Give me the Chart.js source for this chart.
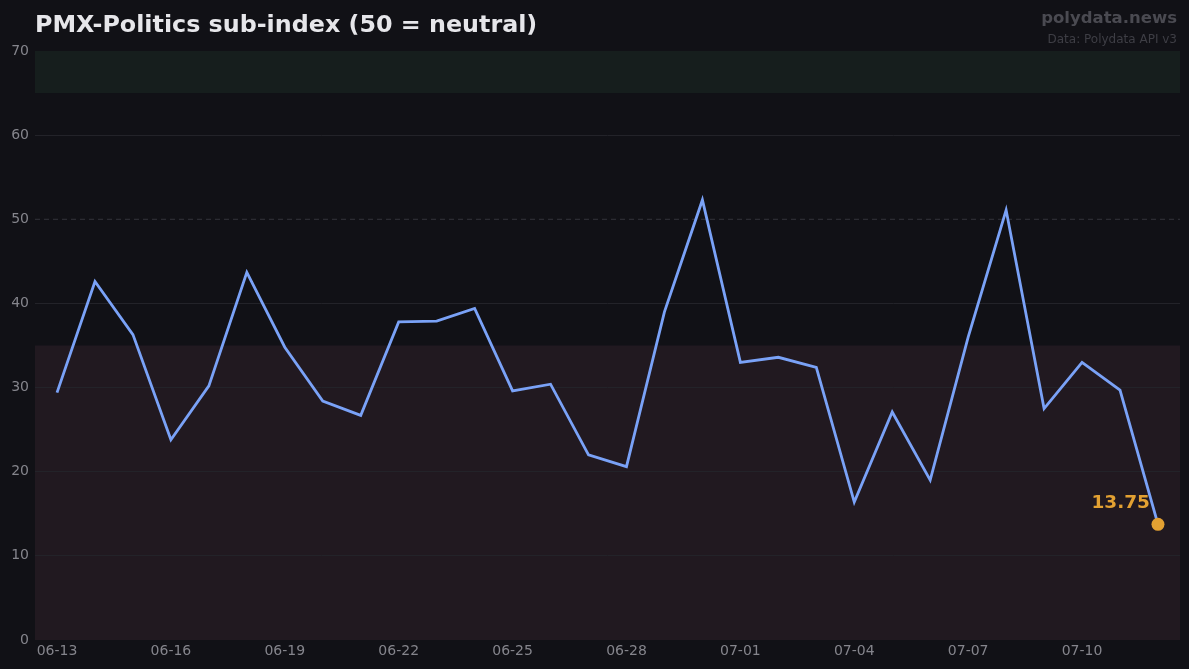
<!DOCTYPE html>
<html>
<head>
<meta charset="utf-8">
<script src="https://cdn.jsdelivr.net/npm/chart.js@4/dist/chart.umd.min.js"></script>
<style>
  html, body { margin: 0; padding: 0; background: #111116; }
  #wrap { width: 1189px; height: 669px; position: relative; }
</style>
</head>
<body>
<div id="wrap"><canvas id="pmxChart"></canvas></div>
<script>
const dates = [
  "06-13", "06-14", "06-15", "06-16", "06-17", "06-18", "06-19", "06-20", "06-21", "06-22",
  "06-23", "06-24", "06-25", "06-26", "06-27", "06-28", "06-29", "06-30", "07-01", "07-02",
  "07-03", "07-04", "07-05", "07-06", "07-07", "07-08", "07-09", "07-10", "07-11", "07-12"
];
const politicsIndex = [
  29.4, 42.6, 36.3, 23.8, 30.2, 43.7, 34.8, 28.4, 26.7, 37.8,
  37.9, 39.4, 29.6, 30.4, 22.0, 20.6, 39.0, 52.3, 33.0, 33.6,
  32.4, 16.4, 27.1, 19.0, 36.0, 51.1, 27.5, 33.0, 29.7, 13.75
];
const yTicks = [0, 10, 20, 30, 40, 50, 60, 70];
const xTickEvery = 3;
const neutralLevel = 50;
const highBand = [65, 70];
const lowBand = [0, 35];

const lastIdx = politicsIndex.length - 1;
const ctx = document.getElementById("pmxChart").getContext("2d");

const bandsPlugin = {
  id: "bands",
  beforeDraw(chart) {
    const c = chart.ctx;
    const area = chart.chartArea;
    const y = chart.scales.y;
    c.save();
    c.fillStyle = "#111116";
    c.fillRect(0, 0, chart.width, chart.height);
    c.fillStyle = "#161e1d";
    c.fillRect(area.left, y.getPixelForValue(highBand[1]), area.right - area.left,
      y.getPixelForValue(highBand[0]) - y.getPixelForValue(highBand[1]));
    c.fillStyle = "#211920";
    c.fillRect(area.left, y.getPixelForValue(lowBand[1]), area.right - area.left,
      y.getPixelForValue(lowBand[0]) - y.getPixelForValue(lowBand[1]));
    c.restore();
  },
  beforeDatasetsDraw(chart) {
    const c = chart.ctx;
    const area = chart.chartArea;
    const py = chart.scales.y.getPixelForValue(neutralLevel);
    c.save();
    c.strokeStyle = "#34343b";
    c.lineWidth = 1;
    c.setLineDash([5, 4]);
    c.beginPath();
    c.moveTo(area.left, py);
    c.lineTo(area.right, py);
    c.stroke();
    c.restore();
  },
  afterDatasetsDraw(chart) {
    const c = chart.ctx;
    const pt = chart.getDatasetMeta(0).data[lastIdx];
    c.save();
    c.fillStyle = "#e3a132";
    c.font = "bold 18.5px 'DejaVu Sans'";
    c.textAlign = "right";
    c.textBaseline = "alphabetic";
    c.fillText(politicsIndex[lastIdx].toFixed(2), pt.x - 8, pt.y - 16);
    c.restore();
  },
  afterDraw(chart) {
    const c = chart.ctx;
    c.save();
    c.fillStyle = "#e6e6ea";
    c.font = "bold 23.8px 'DejaVu Sans'";
    c.textAlign = "left";
    c.fillText("PMX-Politics sub-index (50 = neutral)", 35, 32);
    c.textAlign = "right";
    c.fillStyle = "#4a4a51";
    c.font = "bold 16.5px 'DejaVu Sans'";
    c.fillText("polydata.news", 1177, 23);
    c.fillStyle = "#3e3e45";
    c.font = "12px 'DejaVu Sans'";
    c.fillText("Data: Polydata API v3", 1177, 43);
    c.restore();
  }
};

new Chart(ctx, {
  type: "line",
  data: {
    datasets: [{
      label: "PMX-Politics",
      data: politicsIndex.map((v, i) => ({ x: i, y: v })),
      borderColor: "#7aa2f7",
      borderWidth: 2.8,
      tension: 0,
      pointRadius: c => c.dataIndex === lastIdx ? 6.5 : 0,
      pointHoverRadius: 0,
      pointBackgroundColor: "#e3a132",
      pointBorderWidth: 0
    }]
  },
  options: {
    responsive: true,
    maintainAspectRatio: false,
    animation: false,
    layout: { padding: { top: 51, right: 9, left: 0, bottom: 0 } },
    plugins: { legend: { display: false }, tooltip: { enabled: false } },
    scales: {
      x: {
        type: "linear",
        min: -0.58,
        max: lastIdx + 0.58,
        afterBuildTicks: s => {
          s.ticks = dates.map((d, i) => ({ value: i })).filter(t => t.value % xTickEvery === 0);
        },
        afterFit: s => { s.height = 29; },
        grid: { display: false, drawTicks: false },
        border: { display: false },
        ticks: {
          color: "#85858c",
          font: { family: "DejaVu Sans", size: 14 },
          padding: 3,
          maxRotation: 0,
          autoSkip: false,
          callback: v => dates[v]
        }
      },
      y: {
        min: yTicks[0],
        max: yTicks[yTicks.length - 1],
        afterBuildTicks: s => { s.ticks = yTicks.map(v => ({ value: v })); },
        afterFit: s => { s.width = 35; },
        grid: {
          drawTicks: false,
          color: c => (c.tick && (c.tick.value === 0 || c.tick.value === 70 || c.tick.value === neutralLevel)) ? "rgba(0,0,0,0)" : "#232329",
          lineWidth: 1
        },
        border: { display: false },
        ticks: {
          color: "#85858c",
          font: { family: "DejaVu Sans", size: 14 },
          padding: 6
        }
      }
    }
  },
  plugins: [bandsPlugin]
});
</script>
</body>
</html>
